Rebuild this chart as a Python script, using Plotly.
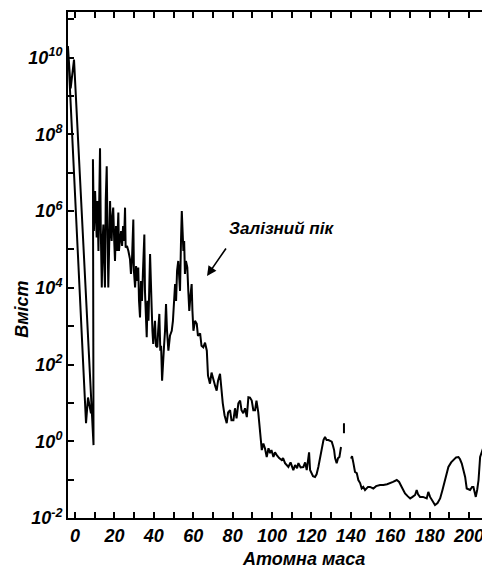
import plotly.graph_objects as go

# ---- data (atomic mass, log10 of abundance) ----
# segment 1: light elements, iron peak and the region up to A~135
mass_1 = [8.1, 6.6, 5.6, -3.6, -2.2, -0.5, 9.4, 9.1,
          9.6, 10.2, 10.7, 11.0, 11.4, 11.9, 12.3, 12.7, 13.1, 13.6, 14.0, 14.4, 14.8, 15.2, 15.6, 16.1,
          16.5, 16.9, 17.4, 17.8, 18.2, 18.6, 19.0, 19.4, 19.9, 20.3, 20.8, 21.3, 22.0, 22.3, 22.8, 23.4,
          23.9, 24.4, 24.9, 25.4, 25.7, 26.4, 27.1, 27.9, 28.4, 28.9, 29.6, 29.9, 30.5, 31.0, 31.5, 32.1,
          32.5, 33.0, 33.5, 34.0, 34.5, 35.2, 35.5, 36.4, 36.8, 37.3, 38.1, 38.5, 38.9, 39.3, 39.7, 40.1,
          40.6, 41.1, 41.8, 42.2, 42.8, 43.3, 43.7, 44.2, 44.7, 45.2, 45.7, 46.2, 46.7, 47.4, 48.2, 49.1,
          49.7, 50.3, 50.8, 51.3, 51.8, 52.4, 52.8, 53.3, 53.8, 54.2, 54.6, 55.0, 55.4, 55.8, 56.3, 57.0,
          57.5, 58.0, 58.6, 59.2, 59.6, 60.1, 60.9, 61.8, 62.4, 63.5, 64.2, 65.1, 66.0, 66.9, 67.5, 68.5,
          69.3, 70.2, 71.1, 71.9, 72.6, 73.6, 74.4, 75.0, 75.9, 77.0, 77.7, 78.7, 79.4, 80.4, 81.2, 82.0,
          82.9, 83.8, 84.5, 85.4, 86.3, 87.2, 88.0, 88.8, 89.7, 90.5, 91.4, 92.1, 93.0, 93.9, 94.8, 95.6,
          96.4, 97.3, 98.2, 99.0, 99.7, 100.7, 101.5, 102.4, 103.6, 104.9, 105.6, 106.6, 108.3, 109.4,
          110.8, 111.7, 112.7, 113.4, 114.5, 115.9, 116.8, 117.6, 118.3, 118.8, 119.3, 120.2, 120.8, 121.8,
          122.6, 123.5, 124.4, 125.2, 126.1, 126.9, 127.7, 128.6, 129.4, 130.3, 131.0, 131.5, 132.0, 132.8,
          133.5, 134.2, 135.0]
log_abund_1 = [0.73, 1.14, 0.47, 10.3, 9.2, 9.95, -0.10, 7.35,
               5.48, 6.52, 5.87, 5.31, 6.26, 4.96, 6.26, 7.64, 5.48, 4.01, 5.22, 5.65, 4.70, 4.01, 6.26, 7.17,
               5.48, 4.01, 5.22, 6.26, 5.48, 5.22, 5.87, 6.09, 5.22, 4.70, 5.61, 4.96, 5.96, 4.96, 5.22, 5.48,
               5.09, 5.61, 5.22, 6.09, 5.05, 5.09, 4.96, 4.75, 4.36, 4.70, 5.78, 4.44, 4.01, 4.57, 4.18, 4.53,
               3.66, 3.23, 4.18, 3.66, 4.44, 5.39, 3.92, 2.71, 3.66, 3.14, 4.88, 3.66, 3.49, 2.88, 2.54, 2.81,
               3.14, 2.49, 2.45, 2.88, 3.32, 2.36, 2.49, 1.58, 2.23, 2.49, 2.88, 3.58, 2.88, 2.36, 2.75, 2.88,
               3.14, 3.66, 4.10, 3.66, 4.44, 4.70, 4.18, 3.92, 5.22, 6.00, 5.48, 4.96, 5.22, 4.36, 4.70, 4.53,
               3.92, 3.40, 3.79, 4.10, 3.40, 2.88, 3.14, 3.06, 2.75, 2.81, 2.49, 2.45, 2.57, 2.36, 1.71, 1.50,
               1.79, 1.58, 1.45, 1.32, 1.58, 1.76, 1.19, 0.99, 0.68, 0.47, 0.75, 0.81, 0.55, 0.55, 0.86, 0.60,
               0.99, 1.06, 0.81, 0.73, 0.86, 0.63, 1.15, 1.14, 1.06, 0.81, 0.81, 1.06, 0.76, 0.29, -0.23, -0.06,
               -0.18, -0.41, -0.18, -0.31, -0.23, -0.41, -0.29, -0.36, -0.44, -0.49, -0.44, -0.57, -0.67, -0.55,
               -0.75, -0.62, -0.70, -0.57, -0.68, -0.67, -0.55, -0.75, -0.44, -0.29, -0.75, -0.83, -0.91, -0.93,
               -0.86, -0.67, -0.39, -0.18, 0.03, 0.11, 0.03, 0.03, 0.00, -0.01, -0.13, -0.23, -0.44, -0.57,
               -0.44, -0.41, -0.15]
# segment 2: isolated short mark near A~136
mass_2 = [136.5, 136.5]
log_abund_2 = [0.47, 0.21]
# segment 3: heavy elements
mass_3 = [140.1, 140.6, 141.3, 142.1, 143.0, 143.8, 144.7, 145.5, 146.3, 147.2, 148.7, 149.7, 151.4, 152.8,
          154.8, 156.5, 158.4, 159.9, 161.4, 163.3, 164.5, 165.8, 167.5, 168.8, 170.1, 171.3, 172.6, 173.4,
          174.1, 175.1, 176.6, 178.5, 179.3, 180.2, 181.1, 181.7, 182.7, 184.0, 185.3, 186.5, 187.8, 189.5,
          190.9, 192.0, 193.4, 194.6, 195.4, 196.3, 197.2, 198.0, 198.8, 199.7, 200.5, 201.5, 202.2, 202.8,
          203.4, 204.1, 204.8, 205.6, 206.6, 207.3, 207.8, 208.4, 208.9, 209.6]
log_abund_3 = [-0.45, -0.39, -0.57, -0.80, -0.83, -1.01, -1.09, -1.23, -1.19, -1.27, -1.19, -1.19, -1.23, -1.17,
               -1.14, -1.14, -1.12, -1.10, -1.06, -1.01, -1.06, -1.19, -1.36, -1.43, -1.49, -1.45, -1.40, -1.27,
               -1.38, -1.45, -1.45, -1.49, -1.32, -1.45, -1.53, -1.58, -1.66, -1.61, -1.49, -1.27, -1.01, -0.67,
               -0.55, -0.49, -0.42, -0.41, -0.47, -0.58, -0.75, -0.93, -1.23, -1.25, -1.27, -1.19, -1.19, -1.32,
               -1.45, -1.27, -1.01, -0.41, -0.23, -0.15, 0.24, -0.10, -0.94, -0.94]

x_ticks = list(range(0, 211, 10))
x_labels = [str(v) if v % 20 == 0 else "" for v in x_ticks]
y_exps = list(range(-2, 12))
y_labels = [f"10<sup>{k}</sup>" if k % 2 == 0 else "" for k in y_exps]

# ---- build the trace ----
xs = mass_1 + [None] + mass_2 + [None] + mass_3
ys = ([10 ** v for v in log_abund_1] + [None] + [10 ** v for v in log_abund_2] + [None]
      + [10 ** v for v in log_abund_3])

fig = go.Figure()
fig.add_trace(go.Scatter(x=xs, y=ys, mode="lines", connectgaps=False,
                         line=dict(color="black", width=2), showlegend=False, hoverinfo="skip"))

FONT = "Liberation Sans, Arial, sans-serif"
tickfont = dict(family=FONT, size=18, color="black", style="italic", weight="bold")

fig.update_xaxes(range=[-3.55, 209.6], tickvals=x_ticks, ticktext=x_labels,
                 ticks="inside", ticklen=6, tickwidth=1.5, tickcolor="black",
                 showline=True, linewidth=2, linecolor="black", mirror="ticks",
                 showgrid=False, zeroline=False, tickfont=tickfont)
fig.update_yaxes(type="log", range=[-2, 11.19], tickvals=[10 ** k for k in y_exps], ticktext=y_labels,
                 ticks="inside", ticklen=6, tickwidth=1.5, tickcolor="black",
                 showline=True, linewidth=2, linecolor="black", mirror="ticks",
                 showgrid=False, zeroline=False, tickfont=tickfont)

titlefont = dict(family=FONT, size=18, color="black", style="italic", weight="bold")
# plot area in window pixels (the page body adds an 8 px offset)
OFF = 8
L, R, T, B = 68, 488, 10, 518
W, H = 490, 569
def px(x):
    return (x - L) / (R - L)
def py(y):
    return (B - y) / (B - T)

fig.add_annotation(xref="paper", yref="paper", x=px(303), y=py(559), text="Атомна маса",
                   showarrow=False, font=titlefont, xanchor="center", yanchor="middle")
fig.add_annotation(xref="paper", yref="paper", x=px(22), y=py(309), text="Вміст", textangle=-90,
                   showarrow=False, font=titlefont, xanchor="center", yanchor="middle")
fig.add_annotation(xref="paper", yref="paper", x=px(227), y=py(227), text="Залізний пік",
                   showarrow=False, font=dict(family=FONT, size=17, color="black", style="italic", weight="bold"),
                   xanchor="left", yanchor="middle")
# arrow pointing at the iron peak slope
fig.add_annotation(x=67.0, y=4.31, xref="x", yref="y", text="", showarrow=True,
                   ax=20, ay=-29, arrowhead=2, arrowsize=1.2, arrowwidth=1.6, arrowcolor="black",
                   standoff=0)

fig.update_layout(width=W, height=H,
                  margin=dict(l=L - OFF, r=W - (R - OFF), t=T - OFF, b=H - (B - OFF)),
                  paper_bgcolor="white", plot_bgcolor="white")

fig.write_html("out.html")
